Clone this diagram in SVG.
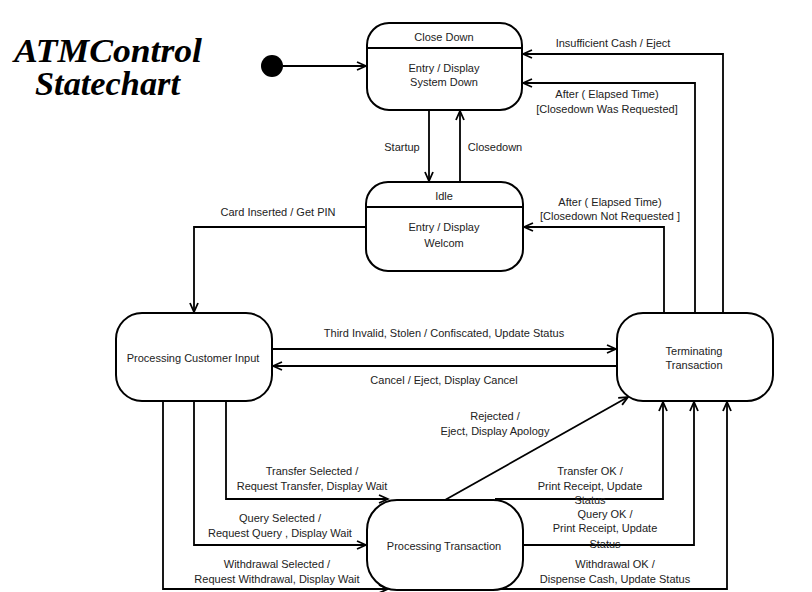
<svg xmlns="http://www.w3.org/2000/svg" width="812" height="592" viewBox="0 0 812 592">
<style>
.st{fill:#fff;stroke:#000;stroke-width:2}
.t{font-family:"Liberation Sans",Arial,sans-serif;font-size:11px;fill:#222;text-anchor:middle}
.c{fill:none;stroke:#000;stroke-width:1.8}
.title{font-family:"Liberation Serif","Times New Roman",serif;font-size:33px;font-weight:bold;font-style:italic;fill:#000}
</style>
<defs>
<marker id="a" markerUnits="userSpaceOnUse" markerWidth="12" markerHeight="12" refX="10" refY="5" orient="auto" viewBox="0 0 12 10">
<path d="M1,1 L10,5 L1,9" fill="none" stroke="#000" stroke-width="1.8"/>
</marker>
</defs>
<rect width="812" height="592" fill="#fff"/>
<g id="title">
<text class="title" x="14" y="62" textLength="188" lengthAdjust="spacingAndGlyphs">ATMControl</text>
<text class="title" x="35" y="95" textLength="145" lengthAdjust="spacingAndGlyphs">Statechart</text>
</g>
<g id="connectors">
<path class="c" d="M283,66 H366" marker-end="url(#a)"/>
<path class="c" d="M429,110 V181" marker-end="url(#a)"/>
<path class="c" d="M460,182 V111" marker-end="url(#a)"/>
<path class="c" d="M366,227 H194 V312" marker-end="url(#a)"/>
<path class="c" d="M272,349 H616" marker-end="url(#a)"/>
<path class="c" d="M617,366 H273" marker-end="url(#a)"/>
<path class="c" d="M226,401 V499 H388" marker-end="url(#a)"/>
<path class="c" d="M194,401 V545 H366" marker-end="url(#a)"/>
<path class="c" d="M163,401 V589 H388" marker-end="url(#a)"/>
<path class="c" d="M445,500 L628,397" marker-end="url(#a)"/>
<path class="c" d="M495,499 H663 V402" marker-end="url(#a)"/>
<path class="c" d="M523,545 H694 V402" marker-end="url(#a)"/>
<path class="c" d="M495,589 H727 V402" marker-end="url(#a)"/>
<path class="c" d="M664,313 V227 H524" marker-end="url(#a)"/>
<path class="c" d="M695,313 V83 H523" marker-end="url(#a)"/>
<path class="c" d="M723,313 V54 H523" marker-end="url(#a)"/>
<text class="t" x="402" y="151">Startup</text>
<text class="t" x="495" y="151">Closedown</text>
<text class="t" x="278" y="216">Card Inserted  / Get PIN</text>
<text class="t" x="613" y="47">Insufficient Cash / Eject</text>
<text class="t" x="607" y="98">After ( Elapsed Time)</text>
<text class="t" x="607" y="113">[Closedown Was Requested]</text>
<text class="t" x="610" y="206">After ( Elapsed Time)</text>
<text class="t" x="610" y="220">[Closedown Not Requested ]</text>
<text class="t" x="444" y="337">Third Invalid, Stolen / Confiscated, Update Status</text>
<text class="t" x="444" y="384">Cancel  / Eject, Display Cancel</text>
<text class="t" x="495" y="420">Rejected /</text>
<text class="t" x="495" y="435">Eject, Display Apology</text>
<text class="t" x="312" y="475">Transfer Selected /</text>
<text class="t" x="312" y="490">Request Transfer, Display Wait</text>
<text class="t" x="280" y="522">Query Selected /</text>
<text class="t" x="280" y="537">Request Query , Display Wait</text>
<text class="t" x="277" y="568">Withdrawal Selected /</text>
<text class="t" x="277" y="583">Request Withdrawal, Display Wait</text>
<text class="t" x="590" y="475">Transfer OK  /</text>
<text class="t" x="590" y="490">Print Receipt, Update</text>
<text class="t" x="590" y="504">Status</text>
<text class="t" x="605" y="518">Query OK /</text>
<text class="t" x="605" y="532">Print Receipt, Update</text>
<text class="t" x="605" y="548">Status</text>
<text class="t" x="615" y="568">Withdrawal OK /</text>
<text class="t" x="615" y="583">Dispense Cash, Update Status</text>
</g>
<g id="initial">
<circle cx="272" cy="66" r="11" fill="#000"/>
</g>
<g id="close-down">
<rect class="st" x="367" y="23" width="155" height="87" rx="22"/>
<line x1="367" y1="48" x2="522" y2="48" stroke="#000" stroke-width="2"/>
<text class="t" x="444" y="41">Close Down</text>
<text class="t" x="444" y="72">Entry / Display</text>
<text class="t" x="444" y="86">System Down</text>
</g>
<g id="idle">
<rect class="st" x="366" y="182" width="157" height="89" rx="22"/>
<line x1="366" y1="207" x2="523" y2="207" stroke="#000" stroke-width="2"/>
<text class="t" x="444" y="200">Idle</text>
<text class="t" x="444" y="231">Entry / Display</text>
<text class="t" x="444" y="247">Welcom</text>
</g>
<g id="processing-customer-input">
<rect class="st" x="116" y="313" width="156" height="88" rx="26"/>
<text class="t" x="193" y="362">Processing Customer Input</text>
</g>
<g id="terminating-transaction">
<rect class="st" x="617" y="313" width="156" height="88" rx="26"/>
<text class="t" x="694" y="355">Terminating</text>
<text class="t" x="694" y="369">Transaction</text>
</g>
<g id="processing-transaction">
<rect class="st" x="367" y="500" width="156" height="90" rx="30"/>
<text class="t" x="444" y="550">Processing Transaction</text>
</g>
</svg>
